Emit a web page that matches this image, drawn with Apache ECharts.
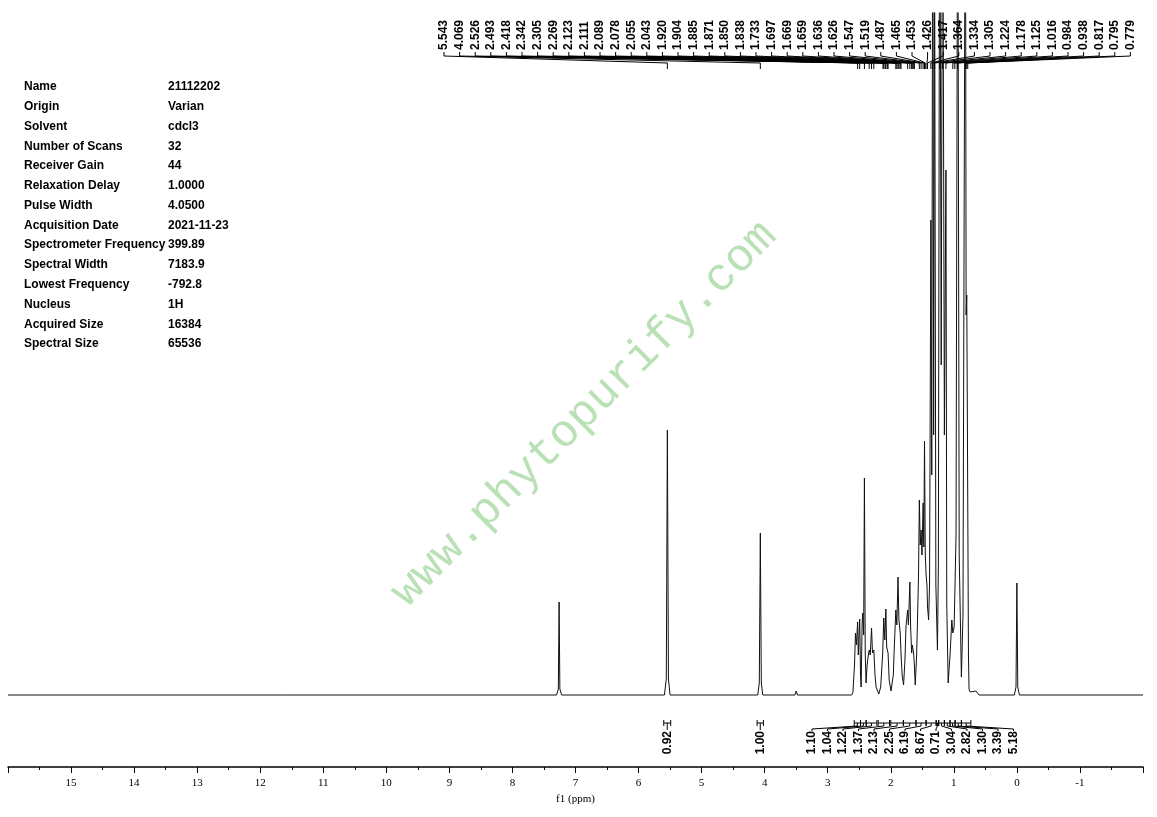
<!DOCTYPE html>
<html>
<head>
	<meta charset="utf-8"/>
	<title>1H NMR 21112202</title>
	<style>
		html, body { margin: 0; padding: 0; background: #fff; }
		#chart { width: 1157px; height: 817px; }
	</style>
</head>
<body>
	<div id="chart"></div>

	<script src="https://cdn.jsdelivr.net/npm/echarts@6/dist/echarts.min.js"></script>
	<script>
		// spectrum outline: [ppm, height above baseline]
		var spectrum = [
			[16, 0],
			[7.30, 0], [7.272, 6], [7.26, 93], [7.248, 6], [7.22, 0],
			[5.59, 0], [5.56, 16], [5.543, 265], [5.526, 16], [5.50, 0],
			[4.11, 0], [4.085, 12], [4.069, 162], [4.053, 12], [4.03, 0],
			[3.52, 0], [3.50, 4], [3.48, 0],
			[2.62, 0], [2.60, 3], [2.575, 30], [2.56, 62], [2.545, 50], [2.526, 73], [2.515, 40],
			[2.493, 76], [2.48, 20], [2.47, 8], [2.455, 70], [2.445, 82], [2.43, 60], [2.418, 217],
			[2.405, 42], [2.392, 12], [2.375, 30], [2.36, 38], [2.342, 45], [2.325, 40], [2.305, 67],
			[2.29, 42], [2.269, 45], [2.25, 20], [2.233, 8], [2.19, 1], [2.16, 8], [2.128, 42],
			[2.111, 77], [2.095, 55], [2.078, 86], [2.065, 48], [2.055, 50], [2.043, 42], [2.025, 15],
			[1.996, 4], [1.96, 20], [1.944, 48], [1.92, 85], [1.904, 70], [1.885, 118], [1.871, 75],
			[1.85, 62], [1.838, 42], [1.82, 20], [1.797, 10], [1.775, 35], [1.759, 68], [1.733, 85],
			[1.72, 70], [1.697, 113], [1.685, 68], [1.669, 42], [1.659, 50], [1.645, 45], [1.636, 40],
			[1.626, 30], [1.612, 10], [1.59, 40], [1.576, 75], [1.56, 120], [1.547, 195], [1.533, 150],
			[1.519, 165], [1.505, 140], [1.487, 192], [1.476, 148], [1.465, 254], [1.453, 142],
			[1.44, 120], [1.426, 110], [1.417, 88], [1.40, 75], [1.385, 110], [1.364, 475], [1.35, 220],
			[1.334, 900], [1.32, 260], [1.305, 760], [1.285, 110], [1.26, 45], [1.245, 130],
			[1.224, 900], [1.20, 330], [1.178, 900], [1.15, 260], [1.125, 525], [1.112, 90], [1.09, 12],
			[1.06, 40], [1.032, 75], [1.016, 62], [0.995, 68], [0.984, 70], [0.965, 160], [0.938, 900],
			[0.915, 140], [0.88, 18], [0.855, 80], [0.817, 900], [0.805, 380], [0.795, 400],
			[0.787, 300], [0.779, 300], [0.768, 40], [0.759, 6], [0.74, 3], [0.65, 4], [0.60, 0],
			[0.04, 0], [0.014, 8], [0.0, 112], [-0.014, 8], [-0.04, 0],
			[-2, 0]
		];

		// picked peaks (ppm)
		var peakLabels = [
			5.543, 4.069, 2.526, 2.493, 2.418, 2.342, 2.305, 2.269, 2.123, 2.111, 2.089, 2.078,
			2.055, 2.043, 1.920, 1.904, 1.885, 1.871, 1.850, 1.838, 1.733, 1.697, 1.669, 1.659,
			1.636, 1.626, 1.547, 1.519, 1.487, 1.465, 1.453, 1.426, 1.417, 1.364, 1.334, 1.305,
			1.224, 1.178, 1.125, 1.016, 0.984, 0.938, 0.817, 0.795, 0.779
		];

		// integration regions
		var intFrom = [5.60, 4.12, 2.58, 2.48, 2.39, 2.20, 2.00, 1.80, 1.60, 1.44, 1.28, 1.24, 1.15, 1.06, 0.98, 0.88];
		var intTo   = [5.49, 4.02, 2.48, 2.39, 2.22, 2.02, 1.80, 1.60, 1.44, 1.28, 1.24, 1.15, 1.06, 0.98, 0.88, 0.73];
		var intValues = ['0.92', '1.00', '1.10', '1.04', '1.22', '1.37', '2.13', '2.25', '6.19', '8.67',
			'0.71', '3.04', '2.82', '1.30', '3.39', '5.18'];

		// parameter table
		var infoNames = ['Name', 'Origin', 'Solvent', 'Number of Scans', 'Receiver Gain', 'Relaxation Delay',
			'Pulse Width', 'Acquisition Date', 'Spectrometer Frequency', 'Spectral Width',
			'Lowest Frequency', 'Nucleus', 'Acquired Size', 'Spectral Size'];
		var infoValues = ['21112202', 'Varian', 'cdcl3', '32', '44', '1.0000', '4.0500', '2021-11-23',
			'399.89', '7183.9', '-792.8', '1H', '16384', '65536'];

		var txtFont = 'bold 12px "Liberation Sans", Arial, sans-serif';

		var graphics = [];
		for (var i = 0; i < infoNames.length; i++) {
			var y = 87 + i * 19.77;
			graphics.push({ type: 'text', x: 24, y: y, style: { text: infoNames[i], font: txtFont, fill: '#000', textVerticalAlign: 'middle', verticalAlign: 'middle' } });
			graphics.push({ type: 'text', x: 168, y: y, style: { text: infoValues[i], font: txtFont, fill: '#000', textVerticalAlign: 'middle', verticalAlign: 'middle' } });
		}
		// watermark
		graphics.push({
			type: 'text', x: 584, y: 414, rotation: Math.PI / 4, z: -1,
			style: {
				text: 'www.phytopurify.com',
				font: '46px "Liberation Mono", "Courier New", monospace',
				fill: 'rgba(130, 200, 120, 0.55)',
				textAlign: 'center', align: 'center',
				textVerticalAlign: 'middle', verticalAlign: 'middle'
			}
		});

		function peakItem(params, api) {
			var ppm = api.value(0);
			var px = api.coord([ppm, 0])[0];
			var lx = 444 + params.dataIndex * 15.6;
			return {
				type: 'group',
				children: [
					{
						type: 'polyline',
						shape: { points: [[lx, 52], [lx, 56], [px, 63], [px, 69]] },
						style: { stroke: '#000', lineWidth: 1, fill: null }
					},
					{
						type: 'text', x: lx, y: 50, rotation: Math.PI / 2,
						style: {
							text: ppm.toFixed(3), font: txtFont, fill: '#000',
							textAlign: 'left', align: 'left',
							textVerticalAlign: 'middle', verticalAlign: 'middle'
						}
					}
				]
			};
		}

		function integralItem(params, api) {
			var i = params.dataIndex;
			var p1 = api.coord([api.value(0), 0]);
			var p2 = api.coord([api.value(1), 0]);
			var by = p1[1] + 28;
			var cx = (p1[0] + p2[0]) / 2;
			var lx = i < 2 ? cx : 812 + (i - 2) * 15.5;
			var lead = i < 2 ? [[cx, by], [cx, by + 7]] : [[cx, by], [cx, by + 3], [lx, by + 6], [lx, by + 8]];
			return {
				type: 'group',
				children: [
					{ type: 'line', shape: { x1: p1[0], y1: by, x2: p2[0], y2: by }, style: { stroke: '#000', lineWidth: 1 } },
					{ type: 'line', shape: { x1: p1[0], y1: by - 3, x2: p1[0], y2: by + 3 }, style: { stroke: '#000', lineWidth: 1 } },
					{ type: 'line', shape: { x1: p2[0], y1: by - 3, x2: p2[0], y2: by + 3 }, style: { stroke: '#000', lineWidth: 1 } },
					{ type: 'polyline', shape: { points: lead }, style: { stroke: '#000', lineWidth: 1, fill: null } },
					{
						type: 'text', x: lx, y: by + 8, rotation: Math.PI / 2,
						style: {
							text: intValues[i], font: txtFont, fill: '#000',
							textAlign: 'right', align: 'right',
							textVerticalAlign: 'middle', verticalAlign: 'middle'
						}
					}
				]
			};
		}

		var intData = [];
		for (var k = 0; k < intFrom.length; k++) {
			intData.push([intFrom[k], intTo[k]]);
		}

		var myChart = echarts.init(document.getElementById('chart'));
		var option = {
			animation: false,
			backgroundColor: '#fff',
			grid: { left: 8, right: 14, top: 13, bottom: 50 },
			xAxis: {
				type: 'value',
				min: -2,
				max: 16,
				interval: 1,
				inverse: true,
				name: 'f1 (ppm)',
				nameLocation: 'middle',
				nameGap: 27,
				nameTextStyle: { fontFamily: '"Liberation Serif", serif', fontSize: 11, color: '#000' },
				axisLine: { onZero: false, lineStyle: { color: '#000', width: 1.5 } },
				axisTick: { length: 6, lineStyle: { color: '#000' } },
				minorTick: { show: true, splitNumber: 2, length: 3, lineStyle: { color: '#000' } },
				splitLine: { show: false },
				axisLabel: {
					showMinLabel: false,
					showMaxLabel: false,
					margin: 11,
					fontFamily: '"Liberation Serif", serif',
					fontSize: 11,
					color: '#000'
				}
			},
			yAxis: {
				type: 'value',
				min: -72,
				max: 682,
				show: false
			},
			graphic: graphics,
			series: [
				{
					type: 'line',
					data: spectrum,
					symbol: 'none',
					clip: true,
					lineStyle: { color: '#111', width: 1 },
					z: 2
				},
				{
					type: 'custom',
					data: peakLabels.map(function (v) { return [v, 0]; }),
					renderItem: peakItem,
					clip: false,
					z: 5
				},
				{
					type: 'custom',
					data: intData,
					renderItem: integralItem,
					clip: false,
					z: 5
				}
			]
		};
		myChart.setOption(option);
	</script>
</body>
</html>
